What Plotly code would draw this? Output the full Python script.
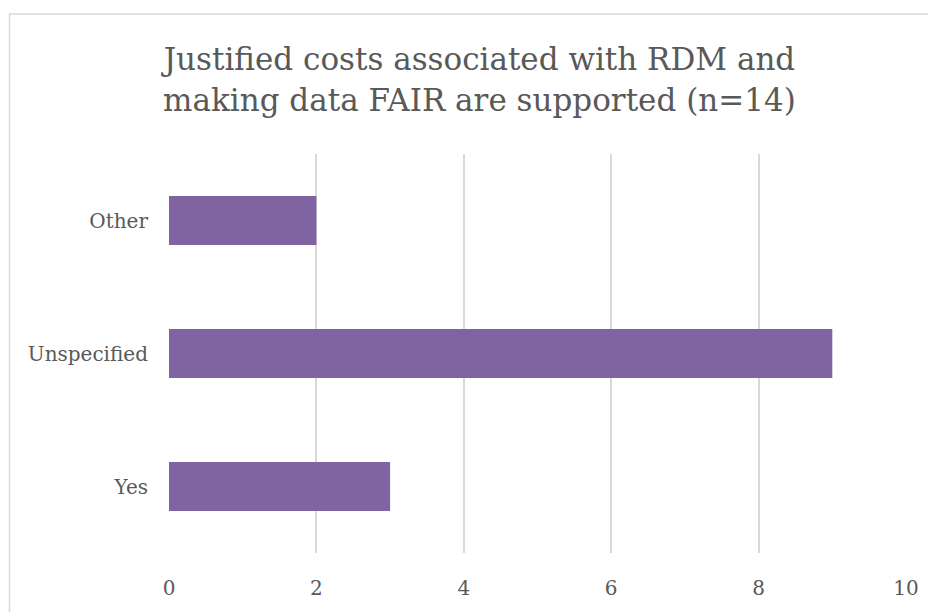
import plotly.graph_objects as go

categories = ["Yes", "Unspecified", "Other"]
values = [3, 9, 2]
tick_vals = [0, 2, 4, 6, 8, 10]
title_text = "Justified costs associated with RDM and<br>making data FAIR are supported (n=14)"

FONT = "DejaVu Serif"
GRAY = "#595959"

W, H = 928, 604
L, R, T, B = 161, 30, 146, 55
PW, PH = W - L - R, H - T - B

fig = go.Figure()
fig.add_trace(go.Bar(
    x=values, y=categories, orientation="h",
    marker=dict(color="#8064A2", line=dict(width=0)),
    width=0.37,
))

fig.update_layout(
    width=W, height=H,
    margin=dict(l=L, r=R, t=T, b=B),
    paper_bgcolor="white", plot_bgcolor="white",
    showlegend=False,
    title=dict(text=title_text, x=0.508, xanchor="center", y=0.897, yanchor="top",
               font=dict(family=FONT, size=31, color=GRAY)),
    font=dict(family=FONT, size=20, color=GRAY),
)
fig.update_xaxes(range=[0, 10], tickvals=tick_vals, showgrid=True, gridcolor="#D9D9D9",
                 gridwidth=1.5, zeroline=False, showline=False, ticks="",
                 ticklabelstandoff=21, tickfont=dict(family=FONT, size=20, color=GRAY))
fig.update_yaxes(showgrid=False, zeroline=False, showline=False, ticks="",
                 ticklabelstandoff=20, tickfont=dict(family=FONT, size=20, color=GRAY))
fig.add_shape(type="rect", xref="paper", yref="paper",
              x0=(1.5 - L) / PW, x1=1.2, y0=-0.5, y1=(H - B - 4.5) / PH,
              line=dict(color="#D9D9D9", width=1.5), fillcolor="rgba(0,0,0,0)", layer="below")
fig.write_html("out.html")
